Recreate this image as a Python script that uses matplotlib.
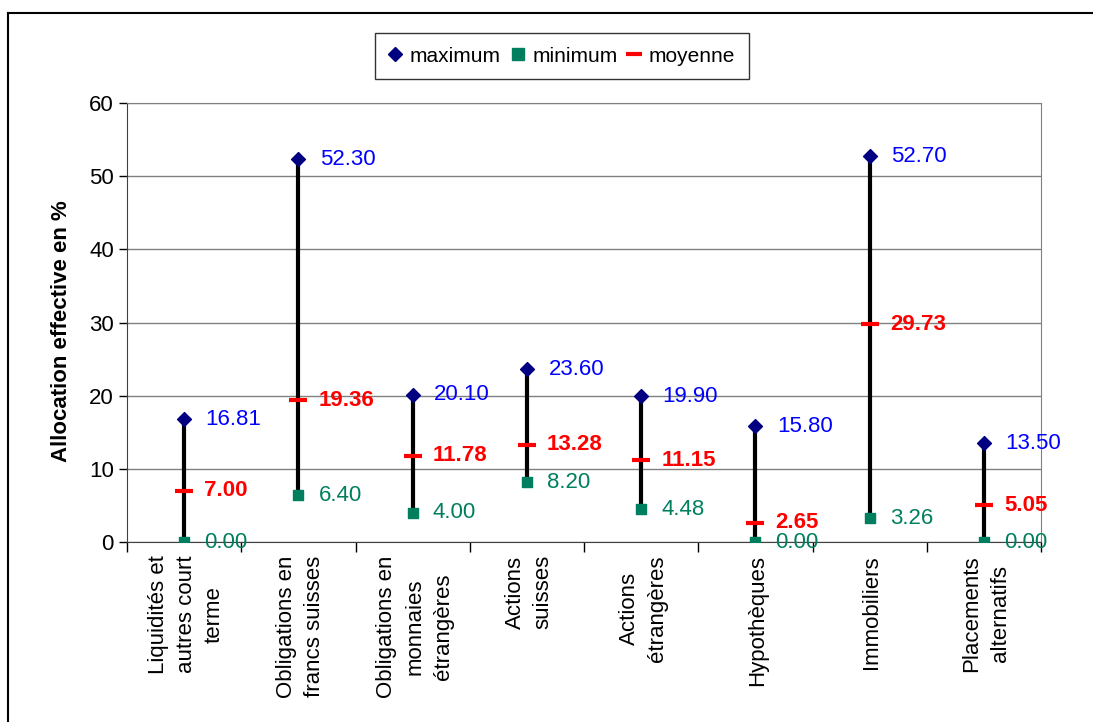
import numpy as np
import matplotlib
matplotlib.use("Agg")
import matplotlib.pyplot as plt
from matplotlib.lines import Line2D

plt.rcParams['font.family'] = ['Liberation Sans', 'DejaVu Sans']

# allocation per asset class, in %
categories = ["Liquidités et\nautres court\nterme",
              "Obligations en\nfrancs suisses",
              "Obligations en\nmonnaies\nétrangères",
              "Actions\nsuisses",
              "Actions\nétrangères",
              "Hypothèques",
              "Immobiliers",
              "Placements\nalternatifs"]
maximum = [16.81, 52.30, 20.10, 23.60, 19.90, 15.80, 52.70, 13.50]
minimum = [0.00, 6.40, 4.00, 8.20, 4.48, 0.00, 3.26, 0.00]
moyenne = [7.00, 19.36, 11.78, 13.28, 11.15, 2.65, 29.73, 5.05]

NAVY = "#000080"
GREEN = "#007F5F"
BLUE = "#0000FF"
RED = "#FF0000"

fig = plt.figure(figsize=(10.93, 7.22), dpi=100)
ax = fig.add_axes([127/1093, 1-542/722, (1041-127)/1093, (542-103)/722])

x = np.arange(len(categories))

# high-low lines
ax.vlines(x, minimum, maximum, color="black", lw=3, zorder=2)
ax.scatter(x, maximum, marker="D", s=50, color=NAVY, zorder=3)
ax.scatter(x, minimum, marker="s", s=55, color=GREEN, zorder=3)
ax.scatter(x, moyenne, marker="_", s=180, linewidths=3, color=RED, zorder=4)

for xi, hi, lo, mo in zip(x, maximum, minimum, moyenne):
    ax.annotate("%.2f" % hi, (xi, hi), xytext=(15.5, 0), textcoords="offset points",
                color=BLUE, fontsize=16, va="center", ha="left")
    ax.annotate("%.2f" % lo, (xi, lo), xytext=(14.5, 0), textcoords="offset points",
                color=GREEN, fontsize=16, va="center", ha="left")
    ax.annotate("%.2f" % mo, (xi, mo), xytext=(14.5, 0), textcoords="offset points",
                color=RED, fontsize=16, fontweight="bold", va="center", ha="left")

ax.set_xlim(-0.5, len(categories) - 0.5)
ax.set_ylim(0, 60)
ax.set_yticks(range(0, 61, 10))
ax.tick_params(axis="y", labelsize=16, direction="out", length=6, width=1)
ax.yaxis.grid(True, color="#808080", lw=1)
ax.set_axisbelow(True)

# category ticks sit on the boundaries, labels in the middle
ax.set_xticks(np.arange(len(categories) + 1) - 0.5)
ax.set_xticklabels([])
ax.tick_params(axis="x", direction="out", length=7, width=1)
for xi, name in zip(x, categories):
    ax.text(xi + 0.02, -0.03, name, transform=ax.get_xaxis_transform(), rotation=90,
            ha="center", va="top", multialignment="center", fontsize=16,
            linespacing=1.45)

for side in ["left", "bottom"]:
    ax.spines[side].set_color("#404040")
for side in ["top", "right"]:
    ax.spines[side].set_color("#808080")

ax.set_ylabel("Allocation effective en %", fontsize=16, fontweight="bold")
ax.yaxis.set_label_coords(-0.06, 0.48)

handles = [Line2D([], [], marker="D", color=NAVY, ls="none", markersize=7),
           Line2D([], [], marker="s", color=GREEN, ls="none", markersize=8),
           Line2D([], [], marker="_", color=RED, ls="none", markersize=11, markeredgewidth=3)]
leg = fig.legend(handles, ["maximum", "minimum", "moyenne"], loc="center",
                 bbox_to_anchor=(562/1093, 1-56/722), ncol=3, fontsize=15,
                 frameon=True, fancybox=False, edgecolor="black",
                 handlelength=0.6, handletextpad=0.4, columnspacing=0.5,
                 borderpad=0.65)
leg.get_frame().set_linewidth(1)

# outer chart border
fig.add_artist(Line2D([8/1093, 8/1093], [0, 1-13/722], transform=fig.transFigure,
                      color="black", lw=1.5))
fig.add_artist(Line2D([8/1093, 1], [1-13/722, 1-13/722], transform=fig.transFigure,
                      color="black", lw=1.5))

fig.savefig("out.png", dpi=100)
